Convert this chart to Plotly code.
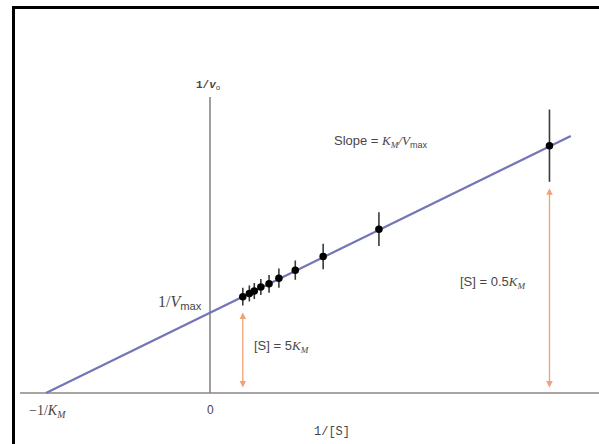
import plotly.graph_objects as go

# Lineweaver-Burk data (1/[S], 1/v0) with error bars
inv_s = [0.20, 0.24, 0.27, 0.31, 0.36, 0.42, 0.52, 0.69, 1.03, 2.07]
inv_v = [1.20, 1.24, 1.27, 1.32, 1.36, 1.43, 1.53, 1.70, 2.04, 3.08]
err_v = [0.11, 0.10, 0.10, 0.10, 0.11, 0.12, 0.12, 0.16, 0.21, 0.45]

# fitted line: x-intercept -1/KM, y-intercept 1/Vmax
neg_inv_km = -1.0
inv_vmax = 1.0
line_x = [neg_inv_km, 2.20]
line_y = [0.0, 3.20]

W, H = 599, 444
X_RANGE = [-1.2805, 2.3720]
Y_RANGE = [-0.635, 4.894]

LBL = "#4a4644"
AX = "#8c8682"
ORANGE = "#f2a274"
SERIF = "Liberation Serif"
SANS = "Liberation Sans"
MONO = "Liberation Mono"

fig = go.Figure()

# axes lines
fig.add_shape(type="line", x0=-1.159, x1=X_RANGE[1], y0=0, y1=0,
              line=dict(color=AX, width=1.6), layer="below")
fig.add_shape(type="line", x0=0, x1=0, y0=0, y1=3.686,
              line=dict(color=AX, width=1.6), layer="below")

fig.add_trace(go.Scatter(x=line_x, y=line_y, mode="lines",
                         line=dict(color="#7375b9", width=2.2),
                         hoverinfo="skip", showlegend=False))

fig.add_trace(go.Scatter(x=inv_s, y=inv_v, mode="markers",
                         marker=dict(color="black", size=7.5),
                         error_y=dict(type="data", array=err_v, visible=True,
                                      color="#3a3a3a", thickness=1.6, width=0),
                         showlegend=False))

# double-headed orange arrows
for xv, top in [(inv_s[0], 1.02), (inv_s[-1], 2.57)]:
    fig.add_annotation(x=xv, y=0.07, ax=xv, ay=top, xref="x", yref="y",
                       axref="x", ayref="y", text="", showarrow=True,
                       arrowside="end+start", arrowhead=2, startarrowhead=2,
                       arrowsize=1, startarrowsize=1, arrowwidth=1.3,
                       arrowcolor=ORANGE)

def K(sub):
    return (f'<span style="font-family:{SERIF}"><i>K</i></span>'
            f'<sub><span style="font-family:{SERIF}"><i>{sub}</i></span></sub>')

def ann(x, y, text, size, family, xanchor="center"):
    fig.add_annotation(x=x, y=y, xref="x", yref="y", text=text, showarrow=False,
                       xanchor=xanchor, yanchor="middle",
                       font=dict(size=size, family=family, color=LBL))

ann(-0.012, 3.83, "<b>1/<i>v</i></b><sub>o</sub>", 11, MONO)
ann(-0.035, 1.13, f'1/<i>V</i><sub><span style="font-family:{SANS}">max</span></sub>', 16, SERIF, "right")
ann(0.256, 0.585, "[S] = 5" + K("M"), 13, SANS, "left")
ann(1.512, 1.38, "[S] = 0.5" + K("M"), 13, SANS, "left")
ann(0.744, 3.126, "Slope = " + K("M") +
    f'<span style="font-family:{SERIF}"><i>/V</i></span><sub>max</sub>', 13, SANS, "left")
ann(-1.116, -0.224, '−1/' + K("M"), 14, SERIF, "left")
ann(0.0, -0.21, "0", 12, SANS)
ann(0.744, -0.486, "1/[S]", 12, MONO)

# black frame (top and left edges)
fig.add_shape(type="line", xref="paper", yref="paper",
              x0=12 / W, x1=1, y0=1 - 7.5 / H, y1=1 - 7.5 / H,
              line=dict(color="black", width=3))
fig.add_shape(type="line", xref="paper", yref="paper",
              x0=13.5 / W, x1=13.5 / W, y0=0, y1=1 - 6 / H,
              line=dict(color="black", width=3))

fig.update_layout(
    width=W, height=H, margin=dict(l=0, r=0, t=0, b=0),
    paper_bgcolor="white", plot_bgcolor="white",
    xaxis=dict(range=X_RANGE, visible=False, fixedrange=True),
    yaxis=dict(range=Y_RANGE, visible=False, fixedrange=True),
    showlegend=False,
)

fig.write_html("out.html", config={"displayModeBar": False},
               post_script="document.body.style.margin='0';document.body.style.padding='0';"
                           "document.body.style.overflow='hidden';"
                           "document.documentElement.style.overflow='hidden';")
